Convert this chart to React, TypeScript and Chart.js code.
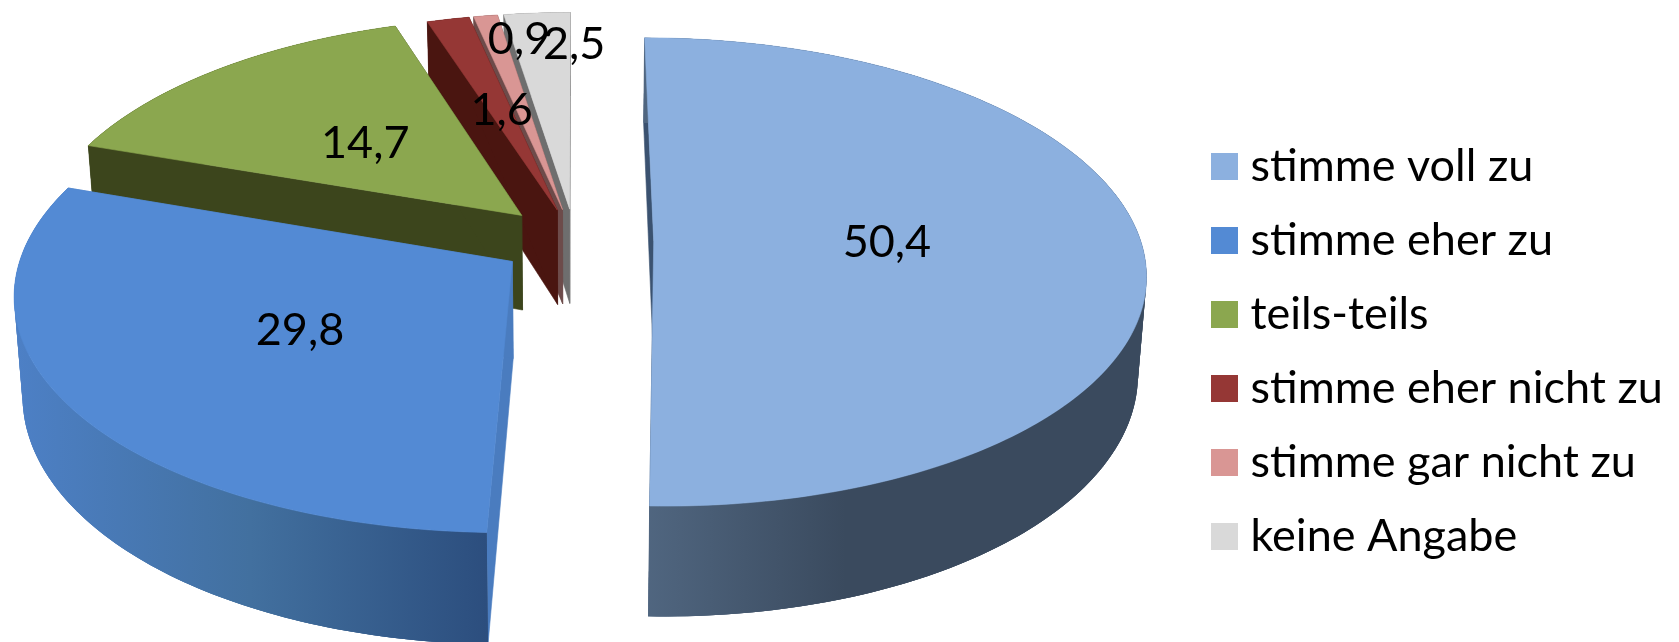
import React, { useEffect, useRef } from "react";
import { Chart, registerables } from "chart.js";

Chart.register(...registerables);

// Survey answers, in percent
const answers = ["stimme voll zu", "stimme eher zu", "teils-teils", "stimme eher nicht zu", "stimme gar nicht zu", "keine Angabe"];
const shares = [50.4, 29.8, 14.7, 1.6, 0.9, 2.5];

// Slice colours: top face, radial wall, and the rim's left-to-right shading
const topColors = ["#8CB0DF", "#538AD4", "#8BA74F", "#953735", "#D99694", "#D9D9D9"];
const wallColors = ["#3B5270", "#4A7CBF", "#3C451C", "#4A1510", "#6D4B4A", "#6E6E6E"];
const rimColors = [
  ["#506680", "#3A4A5E", "#3A4A5E"],
  ["#4D80C6", "#42709F", "#2C4E7E"],
  ["#3C451C", "#3C451C", "#3C451C"],
  ["#4A1510", "#4A1510", "#4A1510"],
  ["#6D4B4A", "#6D4B4A", "#6D4B4A"],
  ["#6E6E6E", "#6E6E6E", "#6E6E6E"],
];

// How far each slice is pulled out of the pie
const explode = [48, 46, 47, 42, 42, 42];

// Back slices are painted first so the nearer ones overlap them
const paintOrder = [5, 4, 3, 2, 1, 0];

// Distance of each value label from its slice tip (fraction of the radius) and a small nudge in px
const labelRadius = [0.47, 0.51, 0.49, 0.48, 0.82, 0.79];
const labelNudge = [[4, -1], [5, -2], [-1, 3], [0, -3], [21, -8], [31, -6]];

const FONT = "Lato";
const FONT_SIZE = 45;
const view = { cx: 575, cy: 241, rx: 487, ry: 230, depth: 96, tilt: 0.13, shrink: 0.015 };

// Maps a point of the pie's plane (unit radius, y towards the viewer) to the canvas.
// z runs from 0 on the top face to 1 on the underside.
function project(x: number, y: number, z: number) {
  const s = 1 / (1 - view.tilt * y);
  return {
    x: view.cx + view.rx * x * s * (1 - view.shrink * z),
    y: view.cy + (view.ry * y + view.depth * z) * s,
  };
}

function polygon(
  ctx: CanvasRenderingContext2D,
  pts: { x: number; y: number }[],
  fill: string | CanvasGradient,
  edge = 0.6
) {
  ctx.beginPath();
  pts.forEach((p, i) => (i ? ctx.lineTo(p.x, p.y) : ctx.moveTo(p.x, p.y)));
  ctx.closePath();
  ctx.fillStyle = fill;
  ctx.fill();
  if (edge > 0) {
    ctx.strokeStyle = fill;
    ctx.lineWidth = edge;
    ctx.stroke();
  }
}

// A filled square for the legend, wider than the slot the legend lays out for it,
// which keeps the legend text close to its swatch
function swatch(color: string) {
  const c = document.createElement("canvas");
  c.width = 27;
  c.height = 27;
  const g = c.getContext("2d")!;
  g.fillStyle = color;
  g.fillRect(0, 0, 27, 27);
  return c;
}

const pie3d = {
  id: "pie3d",
  beforeDatasetDraw(chart: any) {
    const ctx = chart.ctx as CanvasRenderingContext2D;
    const arcs = chart.getDatasetMeta(0).data;
    const geometry = arcs.map((arc: any) => {
      const { startAngle, endAngle, outerRadius } = arc.getProps(["startAngle", "endAngle", "outerRadius"], true);
      const mid = (startAngle + endAngle) / 2;
      const push = arc.options.offset / outerRadius;
      return { startAngle, endAngle, mid, ox: Math.cos(mid) * push, oy: Math.sin(mid) * push };
    });

    ctx.save();
    paintOrder.forEach((i) => {
      const g = geometry[i];
      const rimAt = (z: number) => {
        const pts = [];
        const steps = Math.max(4, Math.ceil(((g.endAngle - g.startAngle) * 180) / Math.PI));
        for (let k = 0; k <= steps; k++) {
          const a = g.startAngle + ((g.endAngle - g.startAngle) * k) / steps;
          pts.push(project(g.ox + Math.cos(a), g.oy + Math.sin(a), z));
        }
        return pts;
      };
      const topRim = rimAt(0);
      const lowRim = rimAt(1);
      const tipTop = project(g.ox, g.oy, 0);
      const tipLow = project(g.ox, g.oy, 1);

      polygon(ctx, [tipTop, topRim[0], lowRim[0], tipLow], wallColors[i]);
      polygon(ctx, [tipTop, topRim[topRim.length - 1], lowRim[lowRim.length - 1], tipLow], wallColors[i]);

      // The rim gets a base band plus overlapping quads, so its silhouette stays filled at the sides
      const xs = topRim.map((p) => p.x);
      const shade = ctx.createLinearGradient(Math.min(...xs), 0, Math.max(...xs), 0);
      const stops = i === 0 ? [0, 0.4, 1] : [0, 0.5, 1];
      rimColors[i].forEach((c, k) => shade.addColorStop(stops[k], c));
      polygon(ctx, [...topRim, ...lowRim.slice().reverse()], shade, 0);
      for (let k = 0; k + 1 < topRim.length; k++) {
        const next = Math.min(k + 2, topRim.length - 1);
        polygon(ctx, [topRim[k], topRim[next], lowRim[next], lowRim[k]], shade, 0);
      }

      polygon(ctx, [tipTop, ...topRim], topColors[i]);
    });

    // Value labels sit on the top faces
    ctx.fillStyle = "#000";
    ctx.font = `${FONT_SIZE}px ${FONT}`;
    ctx.textAlign = "center";
    ctx.textBaseline = "middle";
    geometry.forEach((g: any, i: number) => {
      const r = labelRadius[i];
      const p = project(g.ox + Math.cos(g.mid) * r, g.oy + Math.sin(g.mid) * r, 0);
      ctx.fillText(String(shares[i]).replace(".", ","), p.x + labelNudge[i][0], p.y + labelNudge[i][1]);
    });
    ctx.restore();
    return false;
  },
  afterLayout(chart: any) {
    chart.legend.left = 1191;
    chart.legend.top = 115;
  },
};

export default function App() {
  const ref = useRef<HTMLCanvasElement>(null);
  useEffect(() => {
    document.body.style.margin = "0";
    const swatches = topColors.map(swatch);
    const baseLabels = (Chart as any).overrides.pie.plugins.legend.labels.generateLabels;
    const chart = new Chart(ref.current!, {
      type: "pie",
      data: {
        labels: answers,
        datasets: [{ data: shares, backgroundColor: topColors, borderWidth: 0, offset: explode }],
      },
      options: {
        animation: false,
        responsive: false,
        layout: { padding: 0 },
        plugins: {
          tooltip: { enabled: false },
          legend: {
            position: "right",
            align: "start",
            labels: {
              usePointStyle: true,
              pointStyleWidth: 8,
              boxHeight: 27,
              padding: 29,
              color: "#000",
              font: { family: FONT, size: FONT_SIZE },
              generateLabels: (c: any) =>
                baseLabels(c).map((item: any, i: number) => ({ ...item, pointStyle: swatches[i] })),
            },
          },
        },
      },
      plugins: [pie3d],
    } as any);
    return () => chart.destroy();
  }, []);
  return <canvas ref={ref} width={1679} height={642} style={{ display: "block" }} />;
}
